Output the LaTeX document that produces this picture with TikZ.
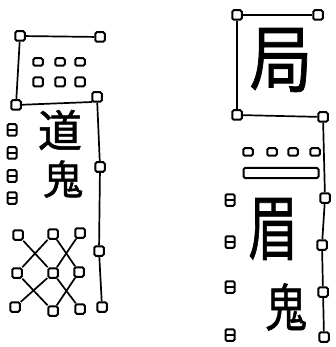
\documentclass[tikz,border=0pt]{standalone}
\usepackage{fontspec}
\newfontfamily\cjk[FakeBold=1.2]{Noto Sans CJK JP}
\usepackage{tikz}
\usetikzlibrary{positioning}

\begin{document}
\begin{tikzpicture}[x=1pt, y=-1pt]
  \tikzstyle{sq}=[rectangle, draw, rounded corners=1.5pt, minimum size=9.5pt, inner sep=0pt, line width=2pt]
  \tikzstyle{dot}=[rectangle, draw, rounded corners=1.5pt, minimum width=9.5pt, minimum height=7.5pt, inner sep=0pt, line width=2pt]
  \tikzstyle{ri}=[rectangle, draw, rounded corners=1.2pt, minimum width=9pt, minimum height=11.5pt, inner sep=0pt, line width=2pt,
    path picture={\draw[line width=1.8pt] (path picture bounding box.west) -- (path picture bounding box.east);}]
  \tikzstyle{lnk}=[line width=1.7pt]
  \tikzstyle{glyph}=[inner sep=0pt, font=\cjk]
  \useasboundingbox (0,0) rectangle (335,347);

  % left column
  \node[sq] (la) at (20,36) {};
  \node[sq] (lb) at (100,37) {};
  \node[sq] (lc) at (16,105) {};
  \node[sq] (ld) at (97,97) {};
  \node[sq] (le) at (100,167) {};
  \node[sq] (lf) at (99,251) {};
  \node[sq] (lg) at (102,307) {};
  \coordinate (lcend) at (92,102);
  \draw[lnk] (la) -- (lb);
  \draw[lnk] (la) -- (lc);
  \draw[lnk] (lc) -- (lcend);
  \draw[lnk] (ld) -- (le) -- (lf) -- (lg);

  \foreach \x in {38,60,80} {
    \node[dot] at (\x,62) {};
    \node[dot, minimum height=9pt] at (\x,82) {};
  }
  \foreach \y in {130,153,176,198}
    \node[ri] at (12,\y) {};

  \node[glyph, font=\cjk\fontsize{44}{44}\selectfont] (dao) at (60,130) {道};
  \node[glyph, font=\cjk\fontsize{40}{40}\selectfont] (oni) at (63,179) {鬼};

  % lattice
  \node[sq] (n11) at (18,235) {};
  \node[sq] (n12) at (53,234) {};
  \node[sq] (n13) at (80,233) {};
  \node[sq] (n21) at (17,273) {};
  \node[sq] (n22) at (53,273) {};
  \node[sq] (n23) at (79,272) {};
  \node[sq] (n31) at (15,307) {};
  \node[sq] (n32) at (53,311) {};
  \node[sq] (n33) at (80,309) {};
  \draw[lnk] (n11) -- (n22) -- (n13);
  \draw[lnk] (n21) -- (n12) -- (n23);
  \draw[lnk] (n31) -- (n22) -- (n33);
  \draw[lnk] (n21) -- (n32) -- (n23);

  % right column
  \node[sq] (ra) at (237,15) {};
  \node[sq] (rb) at (318,15) {};
  \node[sq] (rc) at (237,115) {};
  \node[sq] (rd) at (323,117) {};
  \node[sq] (re) at (325,198) {};
  \node[sq] (rf) at (322,245) {};
  \node[sq] (rg) at (323,292) {};
  \node[sq] (rh) at (324,337) {};
  \draw[lnk] (ra) -- (rb);
  \draw[lnk] (ra) -- (rc);
  \draw[lnk] (rc) -- (rd);
  \draw[lnk] (rd) -- (re) -- (rf) -- (rg) -- (rh);

  \node[glyph, font=\cjk\fontsize{64}{64}\selectfont, xscale=0.98, yscale=1.15] (kyoku) at (281,60) {局};

  \foreach \x in {248,272,293,315}
    \node[dot] at (\x,152) {};
  \node[dot, minimum width=75pt, minimum height=10pt] (bar) at (281,173) {};
  \foreach \y in {200,242,287,335}
    \node[ri] at (230,\y) {};

  \node[glyph, font=\cjk\fontsize{62}{62}\selectfont, xscale=0.8, yscale=1.15] (mayu) at (273,229) {眉};
  \node[glyph, font=\cjk\fontsize{46}{46}\selectfont, xscale=0.9, yscale=1.1] (oni2) at (286,307) {鬼};
\end{tikzpicture}
\end{document}
